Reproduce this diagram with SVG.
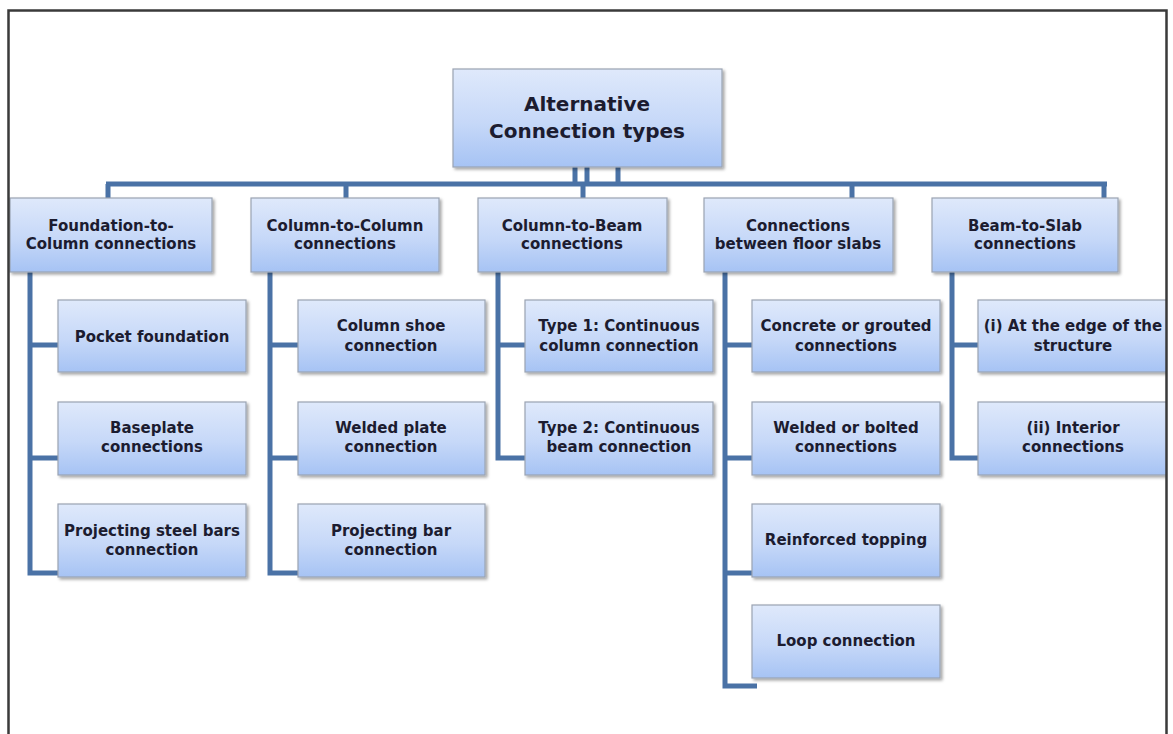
<svg xmlns="http://www.w3.org/2000/svg" width="1173" height="734" viewBox="0 0 1173 734">
<defs>
<linearGradient id="g" x1="0" y1="0" x2="0" y2="1">
<stop offset="0" stop-color="#dfe9fb"/>
<stop offset="0.55" stop-color="#c6d8f8"/>
<stop offset="1" stop-color="#a6c3f4"/>
</linearGradient>
<filter id="sh" x="-10%" y="-10%" width="120%" height="130%">
<feDropShadow dx="2" dy="2" stdDeviation="1.5" flood-color="#000" flood-opacity="0.35"/>
</filter>
<clipPath id="cl"><rect x="0" y="0" width="1166" height="734"/></clipPath>
<style>
.b{fill:url(#g);stroke:#9aa3b2;stroke-width:1.2;filter:url(#sh)}
.t{font-family:"DejaVu Sans",sans-serif;font-weight:bold;font-size:15px;fill:#1c1c30;text-anchor:middle}
.r{font-size:20px}
.c{fill:none;stroke:#4a72a6;stroke-width:5;stroke-linecap:butt;stroke-linejoin:miter}
</style>
</defs>
<rect width="1173" height="734" fill="#fff"/>
<g clip-path="url(#cl)">
<g id="connectors">
<path class="c" d="M575,167V184M587,167V184M618,167V184"/>
<path class="c" d="M106,184H1107"/>
<path class="c" d="M108,184V198M346,184V198M583,184V198M852,184V198M1104,184V198"/>
<path class="c" d="M30,272V573H58M30,345H58M30,458H58"/>
<path class="c" d="M270,272V573H298M270,345H298M270,458H298"/>
<path class="c" d="M498,272V458H525M498,345H525"/>
<path class="c" d="M725,272V686H757M725,345H752M725,458H752M725,573H752"/>
<path class="c" d="M952,272V458H978M952,345H978"/>
</g>
<g id="root"><rect class="b" x="453" y="69" width="269" height="98"/><text class="t r" x="587" y="111">Alternative</text><text class="t r" x="587" y="138">Connection types</text></g>
<g id="n1"><rect class="b" x="10" y="198" width="202" height="74"/><text class="t" x="111" y="231">Foundation-to-</text><text class="t" x="111" y="249">Column connections</text></g>
<g id="n2"><rect class="b" x="251" y="198" width="188" height="74"/><text class="t" x="345" y="231">Column-to-Column</text><text class="t" x="345" y="249">connections</text></g>
<g id="n3"><rect class="b" x="478" y="198" width="189" height="74"/><text class="t" x="572" y="231">Column-to-Beam</text><text class="t" x="572" y="249">connections</text></g>
<g id="n4"><rect class="b" x="704" y="198" width="189" height="74"/><text class="t" x="798" y="231">Connections</text><text class="t" x="798" y="249">between floor slabs</text></g>
<g id="n5"><rect class="b" x="932" y="198" width="186" height="74"/><text class="t" x="1025" y="231">Beam-to-Slab</text><text class="t" x="1025" y="249">connections</text></g>
<g id="n1a"><rect class="b" x="58" y="300" width="188" height="72"/><text class="t" x="152" y="342">Pocket foundation</text></g>
<g id="n1b"><rect class="b" x="58" y="402" width="188" height="73"/><text class="t" x="152" y="433">Baseplate</text><text class="t" x="152" y="452">connections</text></g>
<g id="n1c"><rect class="b" x="58" y="504" width="188" height="73"/><text class="t" x="152" y="536">Projecting steel bars</text><text class="t" x="152" y="555">connection</text></g>
<g id="n2a"><rect class="b" x="298" y="300" width="187" height="72"/><text class="t" x="391" y="331">Column shoe</text><text class="t" x="391" y="351">connection</text></g>
<g id="n2b"><rect class="b" x="298" y="402" width="187" height="73"/><text class="t" x="391" y="433">Welded plate</text><text class="t" x="391" y="452">connection</text></g>
<g id="n2c"><rect class="b" x="298" y="504" width="187" height="73"/><text class="t" x="391" y="536">Projecting bar</text><text class="t" x="391" y="555">connection</text></g>
<g id="n3a"><rect class="b" x="525" y="300" width="188" height="72"/><text class="t" x="619" y="331">Type 1: Continuous</text><text class="t" x="619" y="351">column connection</text></g>
<g id="n3b"><rect class="b" x="525" y="402" width="188" height="73"/><text class="t" x="619" y="433">Type 2: Continuous</text><text class="t" x="619" y="452">beam connection</text></g>
<g id="n4a"><rect class="b" x="752" y="300" width="188" height="72"/><text class="t" x="846" y="331">Concrete or grouted</text><text class="t" x="846" y="351">connections</text></g>
<g id="n4b"><rect class="b" x="752" y="402" width="188" height="73"/><text class="t" x="846" y="433">Welded or bolted</text><text class="t" x="846" y="452">connections</text></g>
<g id="n4c"><rect class="b" x="752" y="504" width="188" height="73"/><text class="t" x="846" y="545">Reinforced topping</text></g>
<g id="n4d"><rect class="b" x="752" y="605" width="188" height="73"/><text class="t" x="846" y="646">Loop connection</text></g>
<g id="n5a"><rect class="b" x="978" y="300" width="192" height="72"/><text class="t" x="1073" y="331">(i) At the edge of the</text><text class="t" x="1073" y="351">structure</text></g>
<g id="n5b"><rect class="b" x="978" y="402" width="192" height="73"/><text class="t" x="1073" y="433">(ii) Interior</text><text class="t" x="1073" y="452">connections</text></g>
</g>
<path d="M8.5,734V10.5H1166.5V734" fill="none" stroke="#3a3a3a" stroke-width="2.5"/>
</svg>
